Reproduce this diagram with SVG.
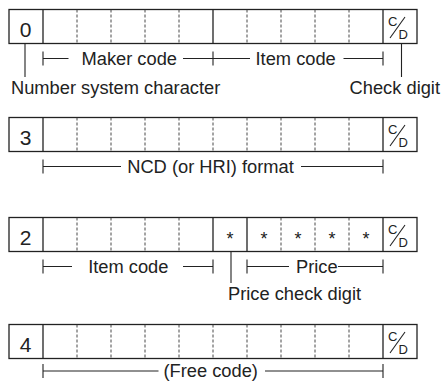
<svg xmlns="http://www.w3.org/2000/svg" width="444" height="381" viewBox="0 0 444 381">
<style>
.box{fill:#fff;stroke:#222;stroke-width:1.3}
.sol{stroke:#222;stroke-width:1.3;fill:none}
.dash{stroke:#333;stroke-width:0.9;stroke-dasharray:3 2;fill:none}
.ln{stroke:#222;stroke-width:1.1;fill:none}
.big{font-family:"Liberation Sans",Arial,sans-serif;font-size:21px;fill:#222;text-anchor:middle}
.lbl{font-family:"Liberation Sans",Arial,sans-serif;font-size:18.3px;fill:#222}
.cd{font-family:"Liberation Sans",Arial,sans-serif;font-size:13px;fill:#222}
.ast{font-family:"Liberation Sans",Arial,sans-serif;font-size:18px;fill:#222;text-anchor:middle}
</style>
<defs>
<g id="cdmark">
<text class="cd" x="388" y="16.5">C</text>
<line class="ln" x1="390" y1="28.5" x2="405" y2="7.5"/>
<text class="cd" x="398.5" y="29">D</text>
</g>
</defs>

<g id="row0" transform="translate(0,9.5)">
<rect class="box" x="9" y="0" width="408" height="34"/>
<path class="dash" d="M77 0V34M111 0V34M145 0V34M179 0V34M247 0V34M281 0V34M315 0V34M349 0V34"/>
<path class="sol" d="M43 0V34M213 0V34M383 0V34"/>
<text class="big" x="25.5" y="27">0</text>
<use href="#cdmark"/>
</g>

<g id="row3" transform="translate(0,117.5)">
<rect class="box" x="9" y="0" width="408" height="34"/>
<path class="dash" d="M77 0V34M111 0V34M145 0V34M179 0V34M213 0V34M247 0V34M281 0V34M315 0V34M349 0V34"/>
<path class="sol" d="M43 0V34M383 0V34"/>
<text class="big" x="25.5" y="27">3</text>
<use href="#cdmark"/>
</g>

<g id="row2" transform="translate(0,217.5)">
<rect class="box" x="9" y="0" width="408" height="34"/>
<path class="dash" d="M77 0V34M111 0V34M145 0V34M179 0V34M281 0V34M315 0V34M349 0V34"/>
<path class="sol" d="M43 0V34M213 0V34M247 0V34M383 0V34"/>
<text class="big" x="25.5" y="27">2</text>
<text class="ast" x="230" y="27.5">*</text>
<text class="ast" x="264" y="27.5">*</text>
<text class="ast" x="298" y="27.5">*</text>
<text class="ast" x="332" y="27.5">*</text>
<text class="ast" x="366" y="27.5">*</text>
<use href="#cdmark"/>
</g>

<g id="row4" transform="translate(0,324.5)">
<rect class="box" x="9" y="0" width="408" height="34"/>
<path class="dash" d="M77 0V34M111 0V34M145 0V34M179 0V34M213 0V34M247 0V34M281 0V34M315 0V34M349 0V34"/>
<path class="sol" d="M43 0V34M383 0V34"/>
<text class="big" x="25.5" y="27">4</text>
<use href="#cdmark"/>
</g>

<g id="connectors">
<path class="ln" d="M25 43.5V77M401.5 43.5V77"/>
<path class="ln" d="M43 51.5V65.5M43 58.5H68.5M183 58.5H250M213 51.5V65.5M343.5 58.5H383M383 51.5V65.5"/>
<path class="ln" d="M43 159.5V173.5M43 166.5H121M301 166.5H383M383 159.5V173.5"/>
<path class="ln" d="M43 259.5V273.5M43 266.5H72M183 266.5H213M213 259.5V273.5M231 251.5V283M247 259.5V273.5M247 266.5H289M338 266.5H383M383 259.5V273.5"/>
<path class="ln" d="M43 364V378M43 371H158.5M265 371H383M383 364V378"/>
</g>

<g id="labels">
<text class="lbl" x="81.5" y="64.5">Maker code</text>
<text class="lbl" x="255.5" y="64.5">Item code</text>
<text class="lbl" x="11" y="93.5">Number system character</text>
<text class="lbl" x="440" y="93.5" text-anchor="end">Check digit</text>
<text class="lbl" x="210.5" y="172.5" text-anchor="middle">NCD (or HRI) format</text>
<text class="lbl" x="128.3" y="272.5" text-anchor="middle">Item code</text>
<text class="lbl" x="296" y="272.5">Price</text>
<text class="lbl" x="228" y="300">Price check digit</text>
<text class="lbl" x="210.7" y="377" text-anchor="middle">(Free code)</text>
</g>
</svg>
